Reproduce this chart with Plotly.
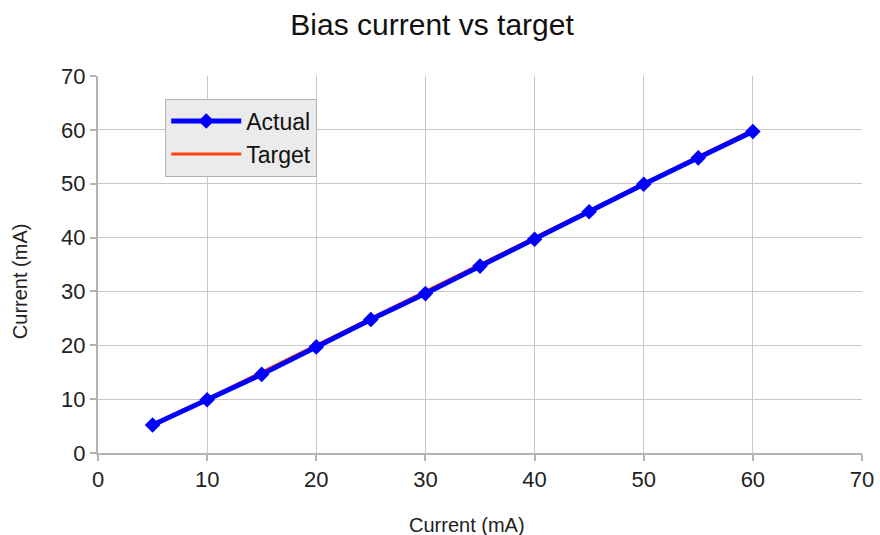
import plotly.graph_objects as go

# Bias current: set-point vs measured
target_ma = [5, 10, 15, 20, 25, 30, 35, 40, 45, 50, 55, 60]
target_line = [5, 10, 15, 20, 25, 30, 35, 40, 45, 50, 55, 60]
actual_ma = [5.2, 9.9, 14.6, 19.7, 24.8, 29.6, 34.7, 39.7, 44.8, 49.9, 54.8, 59.7]
axis_ticks = [0, 10, 20, 30, 40, 50, 60, 70]

font = "Liberation Sans, Arial, sans-serif"

fig = go.Figure()
fig.add_trace(go.Scatter(
    x=target_ma, y=target_line, name="Target", mode="lines",
    line=dict(color="#ff420e", width=3),
))
fig.add_trace(go.Scatter(
    x=target_ma, y=actual_ma, name="Actual", mode="lines+markers",
    line=dict(color="#0000ff", width=5),
    marker=dict(symbol="diamond", size=12, color="#0000ff"),
))

axis_common = dict(
    range=[0, 70], tickvals=axis_ticks, showgrid=True, gridcolor="#c8c8c8",
    gridwidth=1, showline=True, linecolor="#b3b3b3", linewidth=2,
    ticks="outside", ticklen=6, tickcolor="#b3b3b3", tickwidth=1.5,
    tickfont=dict(family=font, size=22, color="#222"), zeroline=False,
    automargin=False,
)

fig.update_layout(
    width=880, height=535,
    margin=dict(l=98, r=18, t=76, b=82),
    paper_bgcolor="white", plot_bgcolor="white",
    title=dict(text="Bias current vs target", x=0.491, xanchor="center",
               y=0.955, yanchor="middle",
               font=dict(family=font, size=30, color="#111")),
    xaxis=dict(**axis_common),
    yaxis=dict(**axis_common),
    legend=dict(x=0.088, y=0.94, xanchor="left", yanchor="top",
                bgcolor="#ebebeb", bordercolor="#b3b3b3", borderwidth=1,
                traceorder="reversed", itemwidth=70,
                font=dict(family=font, size=23, color="#111")),
    showlegend=True,
)

# Axis titles placed in paper space
fig.add_annotation(text="Current (mA)", xref="paper", yref="paper",
                   x=0.483, y=-0.191, xanchor="center", yanchor="middle",
                   showarrow=False, font=dict(family=font, size=20, color="#222"))
fig.add_annotation(text="Current (mA)", xref="paper", yref="paper",
                   x=-0.102, y=0.456, xanchor="center", yanchor="middle",
                   textangle=-90, showarrow=False,
                   font=dict(family=font, size=20, color="#222"))

fig.write_html("out.html")
